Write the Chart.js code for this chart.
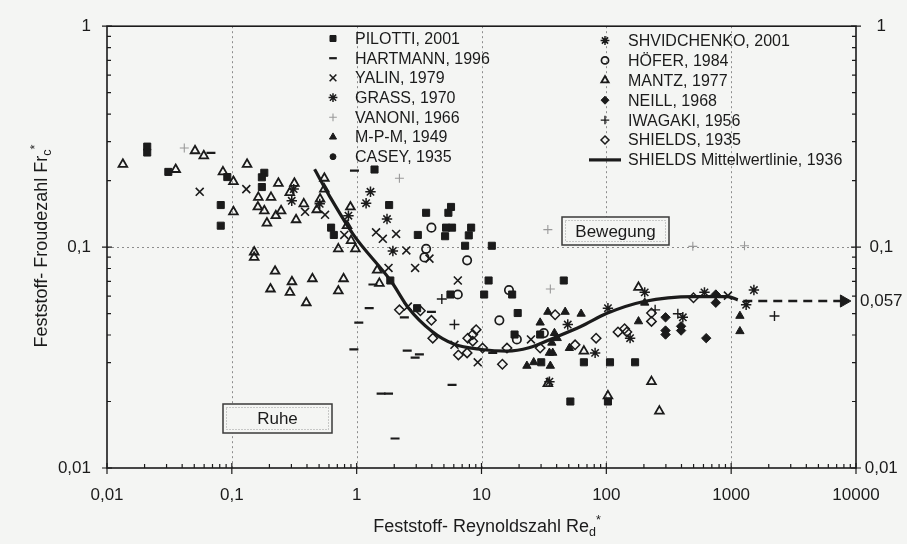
<!DOCTYPE html>
<html><head><meta charset="utf-8">
<script src="https://cdn.jsdelivr.net/npm/chart.js@4.4.1/dist/chart.umd.min.js"></script>
<style>html,body{margin:0;padding:0;background:#f4f5f3;}#wrap{width:907px;height:544px;position:relative}</style>
</head><body><div id="wrap"><canvas id="c" width="907" height="544"></canvas></div>
<script>
// ---------- data ----------
const xDecades = [0.01, 0.1, 1, 10, 100, 1000, 10000];
const xTickLabels = ['0,01', '0,1', '1', '10', '100', '1000', '10000'];
const yTicksLeft = [0.01, 0.1, 1];
const yLabelsLeft = ['0,01', '0,1', '1'];
const yTicksRight = [0.01, 0.057, 0.1, 1];
const yLabelsRight = ['0,01', '0,057', '0,1', '1'];
const gridX = [0.1, 1, 10, 100, 1000];
const gridY = [0.1];

const pilotti = [[0.021,0.285],[0.021,0.268],[0.031,0.219],[0.092,0.2075],[0.0815,0.155],[0.0815,0.125],[0.182,0.217],[0.174,0.207],[0.174,0.187],[0.624,0.1225],[0.656,0.1135],[1.39,0.2245],[1.82,0.155],[3.6,0.143],[5.43,0.143],[5.7,0.152],[5.2,0.1225],[5.81,0.1225],[8.26,0.1225],[3.09,0.1135],[5.11,0.112],[7.91,0.113],[7.39,0.1014],[12.1,0.1014],[1.86,0.0706],[11.4,0.0706],[5.64,0.061],[10.5,0.061],[17.6,0.061],[45.6,0.0706],[3.05,0.0529],[19.5,0.0503],[18.4,0.0402],[29.5,0.0402],[30.1,0.0301],[66.1,0.0301],[51.5,0.02],[107,0.0301],[170,0.0301],[103,0.02]];
const hartmann = [[0.068,0.267],[0.96,0.222],[1.04,0.0455],[0.95,0.0344],[1.35,0.0677],[1.26,0.0529],[2.41,0.0481],[3.97,0.0509],[2.54,0.034],[2.94,0.0316],[3.18,0.0327],[5.81,0.0238],[1.57,0.0217],[1.8,0.0217],[2.03,0.0136],[12.3,0.0332]];
const yalin = [[0.0553,0.178],[0.1306,0.183],[0.386,0.1445],[0.558,0.14],[0.796,0.1135],[1.43,0.1167],[1.62,0.109],[2.07,0.1147],[2.5,0.0966],[1.8,0.0805],[2.94,0.0805],[3.83,0.0887],[6.46,0.0706],[2.57,0.0538],[6.07,0.0361],[9.33,0.0301],[24.9,0.0382],[942,0.0603]];
const grass = [[0.313,0.183],[0.302,0.162],[0.506,0.157],[0.859,0.1387],[1.29,0.178],[1.19,0.158],[1.75,0.134],[1.95,0.096]];
const vanoni = [[0.0416,0.281],[2.2,0.205],[34,0.12],[35.6,0.0646],[493,0.1008],[1279,0.1014]];
const mpm = [[34,0.0509],[46.8,0.0509],[62.8,0.0499],[29.5,0.0455],[38.4,0.0408],[40.4,0.0387],[36.6,0.0369],[35,0.0332],[37.2,0.0332],[50.6,0.0349],[23.1,0.029],[26.2,0.0301],[35.6,0.029],[181,0.0461],[203,0.056],[1175,0.0488],[1175,0.0416]];
const casey = [];
const shvidchenko = [[49.1,0.0446],[81.3,0.0332],[35,0.0246],[103,0.0529],[203,0.0624],[155,0.0387],[410,0.0481],[611,0.0624],[1521,0.0639],[1318,0.0548]];
const hofer = [[3.97,0.1225],[3.6,0.0982],[3.49,0.0898],[7.67,0.0871],[6.46,0.061],[16.6,0.0639],[13.9,0.0466],[19.2,0.0382],[31.6,0.0408]];
const mantz = [[0.0134,0.237],[0.0507,0.273],[0.0596,0.259],[0.0355,0.2245],[0.0849,0.219],[0.103,0.198],[0.103,0.1445],[0.1324,0.237],[0.236,0.1945],[0.163,0.168],[0.206,0.168],[0.1616,0.152],[0.182,0.146],[0.191,0.1285],[0.225,0.1387],[0.248,0.146],[0.317,0.1945],[0.291,0.1765],[0.327,0.133],[0.377,0.157],[0.479,0.1476],[0.509,0.165],[0.551,0.205],[0.551,0.183],[0.891,0.152],[0.837,0.125],[0.902,0.107],[0.713,0.0982],[0.977,0.0982],[0.151,0.095],[0.151,0.0898],[0.222,0.0778],[0.204,0.0646],[0.303,0.0697],[0.292,0.0624],[0.442,0.0719],[0.395,0.056],[0.785,0.0719],[0.713,0.0633],[1.46,0.0786],[1.52,0.0685],[181,0.0657],[66.1,0.0338],[34,0.0241],[230,0.0246],[103,0.0212],[266,0.0181]];
const neill = [[298,0.0481],[298,0.0419],[298,0.0402],[397,0.0438],[397,0.0419],[753,0.061],[753,0.056],[631,0.0387]];
const iwagaki = [[4.81,0.0582],[6.07,0.0446],[246,0.052],[374,0.0499],[2223,0.0488]];
const shields = [[2.2,0.052],[3.24,0.0515],[3.97,0.0466],[4.07,0.0387],[9.06,0.0423],[8.51,0.0402],[7.76,0.0387],[8.51,0.0375],[6.53,0.0325],[7.67,0.0332],[10.2,0.0349],[16,0.0349],[14.7,0.0295],[29.5,0.0349],[38.9,0.0494],[56.2,0.0361],[82.8,0.0387],[230,0.0503],[230,0.0461],[124,0.0413],[140,0.0427],[146,0.0413],[499,0.059]];
const curveX = [0.46,0.6,0.95,1.9,2.6,4,6,10,16,24,38,63,100,200,500,940,1130];
const curveY = [0.225,0.172,0.113,0.0697,0.053,0.0416,0.0364,0.0344,0.0338,0.035,0.0388,0.0438,0.05,0.0567,0.0597,0.0597,0.0577];
const criticalValue = 0.057;
const arrowX = [1250, 7600];
const arrowHeadX = 8000;

// ---------- styling ----------
const F = '"Liberation Sans", Arial, Helvetica, sans-serif';
const INK = '#1b1b1b';
const BG = '#f4f5f3';
const xy = a => a.map(p => ({x: p[0], y: p[1]}));

function pts(label, data, style, r, fill, stroke, bw, legend) {
  return {label, data: xy(data), showLine: false, pointStyle: style, pointRadius: r,
    pointBackgroundColor: fill, pointBorderColor: stroke, pointBorderWidth: bw,
    pointHoverRadius: r, legendCol: legend[0], legendRow: legend[1]};
}
const datasets = [
  pts('PILOTTI, 2001', pilotti, 'rect', 5, INK, INK, 1, [0,0]),
  pts('HARTMANN, 1996', hartmann, 'line', 4.5, INK, INK, 2.2, [0,1]),
  pts('YALIN, 1979', yalin, 'crossRot', 5.6, INK, INK, 1.6, [0,2]),
  pts('GRASS, 1970', grass, 'star', 5.2, INK, INK, 1.5, [0,3]),
  pts('VANONI, 1966', vanoni, 'cross', 4.5, '#999999', '#999999', 1.1, [0,4]),
  pts('M-P-M, 1949', mpm, 'triangle', 4.8, INK, INK, 1, [0,5]),
  pts('CASEY, 1935', casey, 'circle', 3.5, INK, INK, 1, [0,6]),
  pts('SHVIDCHENKO, 2001', shvidchenko, 'star', 5.2, INK, INK, 1.5, [1,0]),
  pts('HÖFER, 1984', hofer, 'circle', 4.2, 'rgba(0,0,0,0)', INK, 1.7, [1,1]),
  pts('MANTZ, 1977', mantz, 'triangle', 5, 'rgba(0,0,0,0)', INK, 1.8, [1,2]),
  pts('NEILL, 1968', neill, 'rectRot', 4.7, INK, INK, 1, [1,3]),
  pts('IWAGAKI, 1956', iwagaki, 'cross', 5, INK, INK, 1.4, [1,4]),
  pts('SHIELDS, 1935', shields, 'rectRot', 4.7, 'rgba(0,0,0,0)', INK, 1.5, [1,5]),
  {label: 'SHIELDS Mittelwertlinie, 1936', data: curveX.map((x, i) => ({x, y: curveY[i]})),
   showLine: true, borderColor: INK, borderWidth: 3.2, pointRadius: 0, cubicInterpolationMode: 'monotone',
   legendCol: 1, legendRow: 6, isLine: true},
  {label: '_arrow', data: arrowX.map(x => ({x, y: criticalValue})), showLine: true, borderColor: INK,
   borderWidth: 2.5, borderDash: [9, 6], pointRadius: 0},
  {label: '_arrowhead', data: [{x: arrowHeadX, y: criticalValue}], showLine: false, pointStyle: 'triangle',
   rotation: 90, pointRotation: 90, pointRadius: 7, pointBackgroundColor: INK, pointBorderColor: INK, pointBorderWidth: 1}
];

function rich(ctx, parts, x, y) { // centered at x, baseline y
  const base = 18, small = 12.5;
  let w = 0;
  parts.forEach(p => { ctx.font = (p.s ? small : base) + 'px ' + F; p.w = ctx.measureText(p.t).width; w += p.w; });
  let cx = x - w / 2;
  ctx.textBaseline = 'alphabetic'; ctx.textAlign = 'left';
  parts.forEach(p => {
    ctx.font = (p.s ? small : base) + 'px ' + F;
    const dy = p.s === 1 ? 4 : (p.s === -1 ? -8 : 0);
    ctx.fillText(p.t, cx, y + dy);
    cx += p.w;
  });
}

function box(ctx, x, y, w, h, text) {
  ctx.save();
  ctx.fillStyle = BG; ctx.fillRect(x, y, w, h);
  ctx.strokeStyle = '#3a3a3a'; ctx.lineWidth = 1.5; ctx.strokeRect(x, y, w, h);
  ctx.strokeStyle = '#9a9a9a'; ctx.lineWidth = 1; ctx.setLineDash([1, 2]);
  ctx.strokeRect(x + 3.5, y + 3.5, w - 7, h - 7);
  ctx.setLineDash([]);
  ctx.fillStyle = INK; ctx.font = '17px ' + F; ctx.textAlign = 'center'; ctx.textBaseline = 'middle';
  ctx.fillText(text, x + w / 2, y + h / 2 + 1);
  ctx.restore();
}

const decor = {
  id: 'decor',
  beforeDraw(chart) {
    const c = chart.ctx; c.save(); c.fillStyle = BG; c.fillRect(0, 0, chart.width, chart.height); c.restore();
  },
  beforeDatasetsDraw(chart) {
    const {ctx, chartArea: a, scales: {x, y}} = chart;
    ctx.save(); ctx.strokeStyle = '#8c8c8c'; ctx.lineWidth = 1; ctx.setLineDash([2, 3]);
    gridX.forEach(v => { const px = Math.round(x.getPixelForValue(v)) + 0.5;
      ctx.beginPath(); ctx.moveTo(px, a.top); ctx.lineTo(px, a.bottom); ctx.stroke(); });
    gridY.forEach(v => { const py = Math.round(y.getPixelForValue(v)) + 0.5;
      ctx.beginPath(); ctx.moveTo(a.left, py); ctx.lineTo(a.right, py); ctx.stroke(); });
    ctx.restore();
  },
  afterDatasetsDraw(chart) {
    const {ctx, chartArea: a, scales: {x, y}} = chart;
    ctx.save();
    ctx.strokeStyle = INK; ctx.lineWidth = 1.6;
    ctx.strokeRect(a.left, a.top, a.right - a.left, a.bottom - a.top);
    ctx.lineWidth = 1.2;
    ctx.beginPath();
    for (let d = -2; d <= 3; d++) for (let m = 2; m <= 9; m++) {
      const px = x.getPixelForValue(m * Math.pow(10, d));
      ctx.moveTo(px, a.bottom); ctx.lineTo(px, a.bottom - 4);
    }
    xDecades.forEach(v => { const px = x.getPixelForValue(v); ctx.moveTo(px, a.bottom - 5); ctx.lineTo(px, a.bottom + 6); });
    for (let d = -2; d <= -1; d++) for (let m = 2; m <= 9; m++) {
      const py = y.getPixelForValue(m * Math.pow(10, d));
      ctx.moveTo(a.left, py); ctx.lineTo(a.left + 4, py);
      ctx.moveTo(a.right, py); ctx.lineTo(a.right - 4, py);
    }
    yTicksLeft.forEach(v => { const py = y.getPixelForValue(v);
      ctx.moveTo(a.left - 5, py); ctx.lineTo(a.left + 5, py);
      ctx.moveTo(a.right - 5, py); ctx.lineTo(a.right + 5, py); });
    ctx.stroke();
    ctx.restore();
  },
  afterDraw(chart) {
    const {ctx} = chart;
    ctx.save();
    ctx.fillStyle = INK;
    // axis titles
    rich(ctx, [{t: 'Feststoff- Reynoldszahl Re'}, {t: 'd', s: 1}, {t: '*', s: -1}], 487, 532);
    ctx.save(); ctx.translate(47, 246); ctx.rotate(-Math.PI / 2);
    rich(ctx, [{t: 'Feststoff- Froudezahl Fr'}, {t: 'c', s: 1}, {t: '*', s: -1}], 0, 0);
    ctx.restore();
    // legend
    const drawPoint = Chart.helpers && Chart.helpers.drawPoint;
    const cols = [{mx: 333, tx: 355, y0: 38.5, dy: 19.7}, {mx: 605, tx: 628, y0: 40.5, dy: 19.9}];
    chart.data.datasets.forEach(ds => {
      if (ds.legendCol === undefined) return;
      const c = cols[ds.legendCol];
      const yy = c.y0 + ds.legendRow * c.dy;
      ctx.save();
      if (ds.isLine) {
        ctx.strokeStyle = INK; ctx.lineWidth = 3.2;
        ctx.beginPath(); ctx.moveTo(589, yy); ctx.lineTo(621, yy); ctx.stroke();
      } else if (drawPoint) {
        ctx.fillStyle = ds.pointBackgroundColor; ctx.strokeStyle = ds.pointBorderColor; ctx.lineWidth = ds.pointBorderWidth;
        drawPoint(ctx, {pointStyle: ds.pointStyle, radius: ds.pointRadius * 0.85, rotation: 0, borderWidth: ds.pointBorderWidth}, c.mx, yy);
      }
      ctx.restore();
      ctx.fillStyle = INK; ctx.font = '16px ' + F; ctx.textAlign = 'left'; ctx.textBaseline = 'middle';
      ctx.fillText(ds.label, c.tx, yy + 1);
    });
    box(ctx, 562, 217, 107, 28, 'Bewegung');
    box(ctx, 223, 404, 109, 29, 'Ruhe');
    ctx.restore();
  }
};

function tickCfg(pad, extra) {
  return Object.assign({autoSkip: false, maxRotation: 0, color: INK, padding: pad, font: {family: F, size: 17}}, extra || {});
}

new Chart(document.getElementById('c'), {
  type: 'scatter',
  data: {datasets},
  plugins: [decor],
  options: {
    responsive: false, animation: false, devicePixelRatio: 1,
    layout: {padding: {top: 22, left: 0, right: 0, bottom: 0}},
    plugins: {legend: {display: false}, tooltip: {enabled: false}},
    scales: {
      x: {type: 'logarithmic', position: 'bottom', min: 0.01, max: 10000,
        afterBuildTicks: s => { s.ticks = xDecades.map(v => ({value: v})); },
        afterFit: s => { s.height = 76; },
        ticks: tickCfg(17, {callback: (v, i) => xTickLabels[i]}),
        grid: {display: false, drawTicks: false}, border: {display: false}},
      y: {type: 'logarithmic', position: 'left', min: 0.01, max: 1,
        afterBuildTicks: s => { s.ticks = yTicksLeft.map(v => ({value: v})); },
        afterFit: s => { s.width = 107; },
        ticks: tickCfg(16, {callback: (v, i) => yLabelsLeft[i]}),
        grid: {display: false, drawTicks: false}, border: {display: false}},
      y2: {type: 'logarithmic', position: 'right', min: 0.01, max: 1,
        afterBuildTicks: s => { s.ticks = yTicksRight.map(v => ({value: v})); },
        afterFit: s => { s.width = 51; },
        ticks: tickCfg(4, {crossAlign: 'center', callback: (v, i) => yLabelsRight[i]}),
        grid: {display: false, drawTicks: false}, border: {display: false}}
    }
  }
});
</script>
</body></html>
